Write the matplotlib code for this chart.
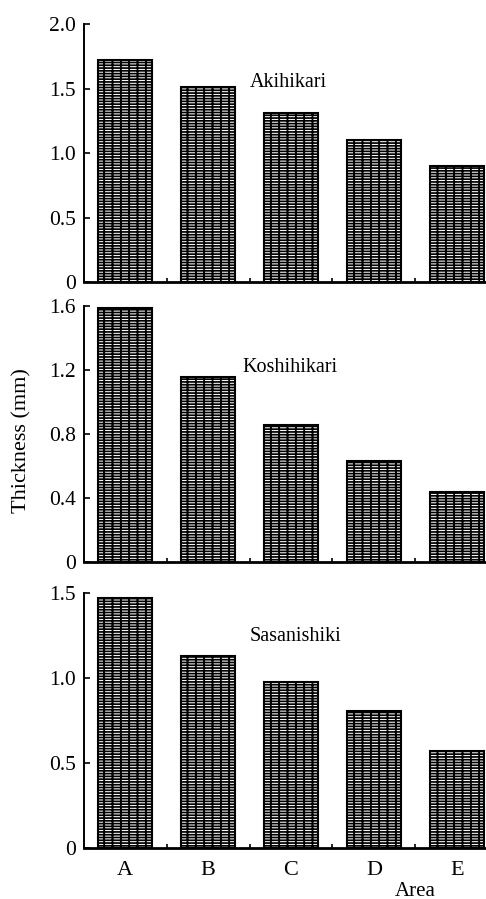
import matplotlib
matplotlib.use("Agg")
import matplotlib.pyplot as plt


OUTPUT_PATH = "out.png"

areas = ["A", "B", "C", "D", "E"]
akihikari = [1.72, 1.51, 1.31, 1.10, 0.90]
koshihikari = [1.59, 1.16, 0.86, 0.63, 0.44]
sasanishiki = [1.47, 1.13, 0.98, 0.81, 0.57]

panels = [
    ("Akihikari", akihikari, 2.0, [0, 0.5, 1.0, 1.5, 2.0], ["0", "0.5", "1.0", "1.5", "2.0"], (1.5, 1.51)),
    ("Koshihikari", koshihikari, 1.6, [0, 0.4, 0.8, 1.2, 1.6], ["0", "0.4", "0.8", "1.2", "1.6"], (1.42, 1.19)),
    ("Sasanishiki", sasanishiki, 1.5, [0, 0.5, 1.0, 1.5], ["0", "0.5", "1.0", "1.5"], (1.5, 1.22)),
]

# axes boxes in figure fraction: left, bottom, width, height
boxes = [
    (0.173, 0.6863, 0.827, 0.2870),
    (0.173, 0.3745, 0.827, 0.2851),
    (0.173, 0.0564, 0.827, 0.2836),
]


def main() -> None:
    plt.rcParams["font.family"] = ["Liberation Serif", "DejaVu Serif"]
    plt.rcParams["hatch.linewidth"] = 1.25
    fig = plt.figure(figsize=(4.86, 8.99), dpi=100)

    x = list(range(len(areas)))
    for (name, vals, ymax, yticks, ylabels, lab), box in zip(panels, boxes):
        ax = fig.add_axes(box)
        ax.bar(x, vals, width=0.65, color="white", edgecolor="black",
               linewidth=1.5, hatch="||------", zorder=2)
        ax.set_xlim(-0.494, 4.35)
        ax.set_ylim(0, ymax)
        ax.set_yticks(yticks)
        ax.set_yticklabels(ylabels, fontsize=15.5)
        ax.set_xticks([i + 0.5 for i in range(4)])
        ax.set_xticklabels([])
        ax.tick_params(axis="x", direction="in", length=3, width=1.2)
        ax.tick_params(axis="y", direction="in", length=4, width=1.2, pad=6)
        for s in ("top", "right"):
            ax.spines[s].set_visible(False)
        ax.spines["left"].set_linewidth(1.4)
        ax.spines["bottom"].set_linewidth(2.0)
        ax.text(lab[0], lab[1], name, fontsize=14.5, ha="left", va="baseline")
        last = ax

    for i, a in enumerate(areas):
        last.text(i, -0.05, a, fontsize=16, ha="center", va="top",
                  transform=last.get_xaxis_transform())
    fig.text(415 / 486, 1 - 891 / 899, "Area", fontsize=15, ha="center", va="center")
    fig.text(22 / 486, 1 - 441 / 899, "Thickness (mm)", fontsize=16,
             rotation=90, ha="center", va="center")

    fig.savefig(OUTPUT_PATH, dpi=100)


if __name__ == "__main__":
    main()
